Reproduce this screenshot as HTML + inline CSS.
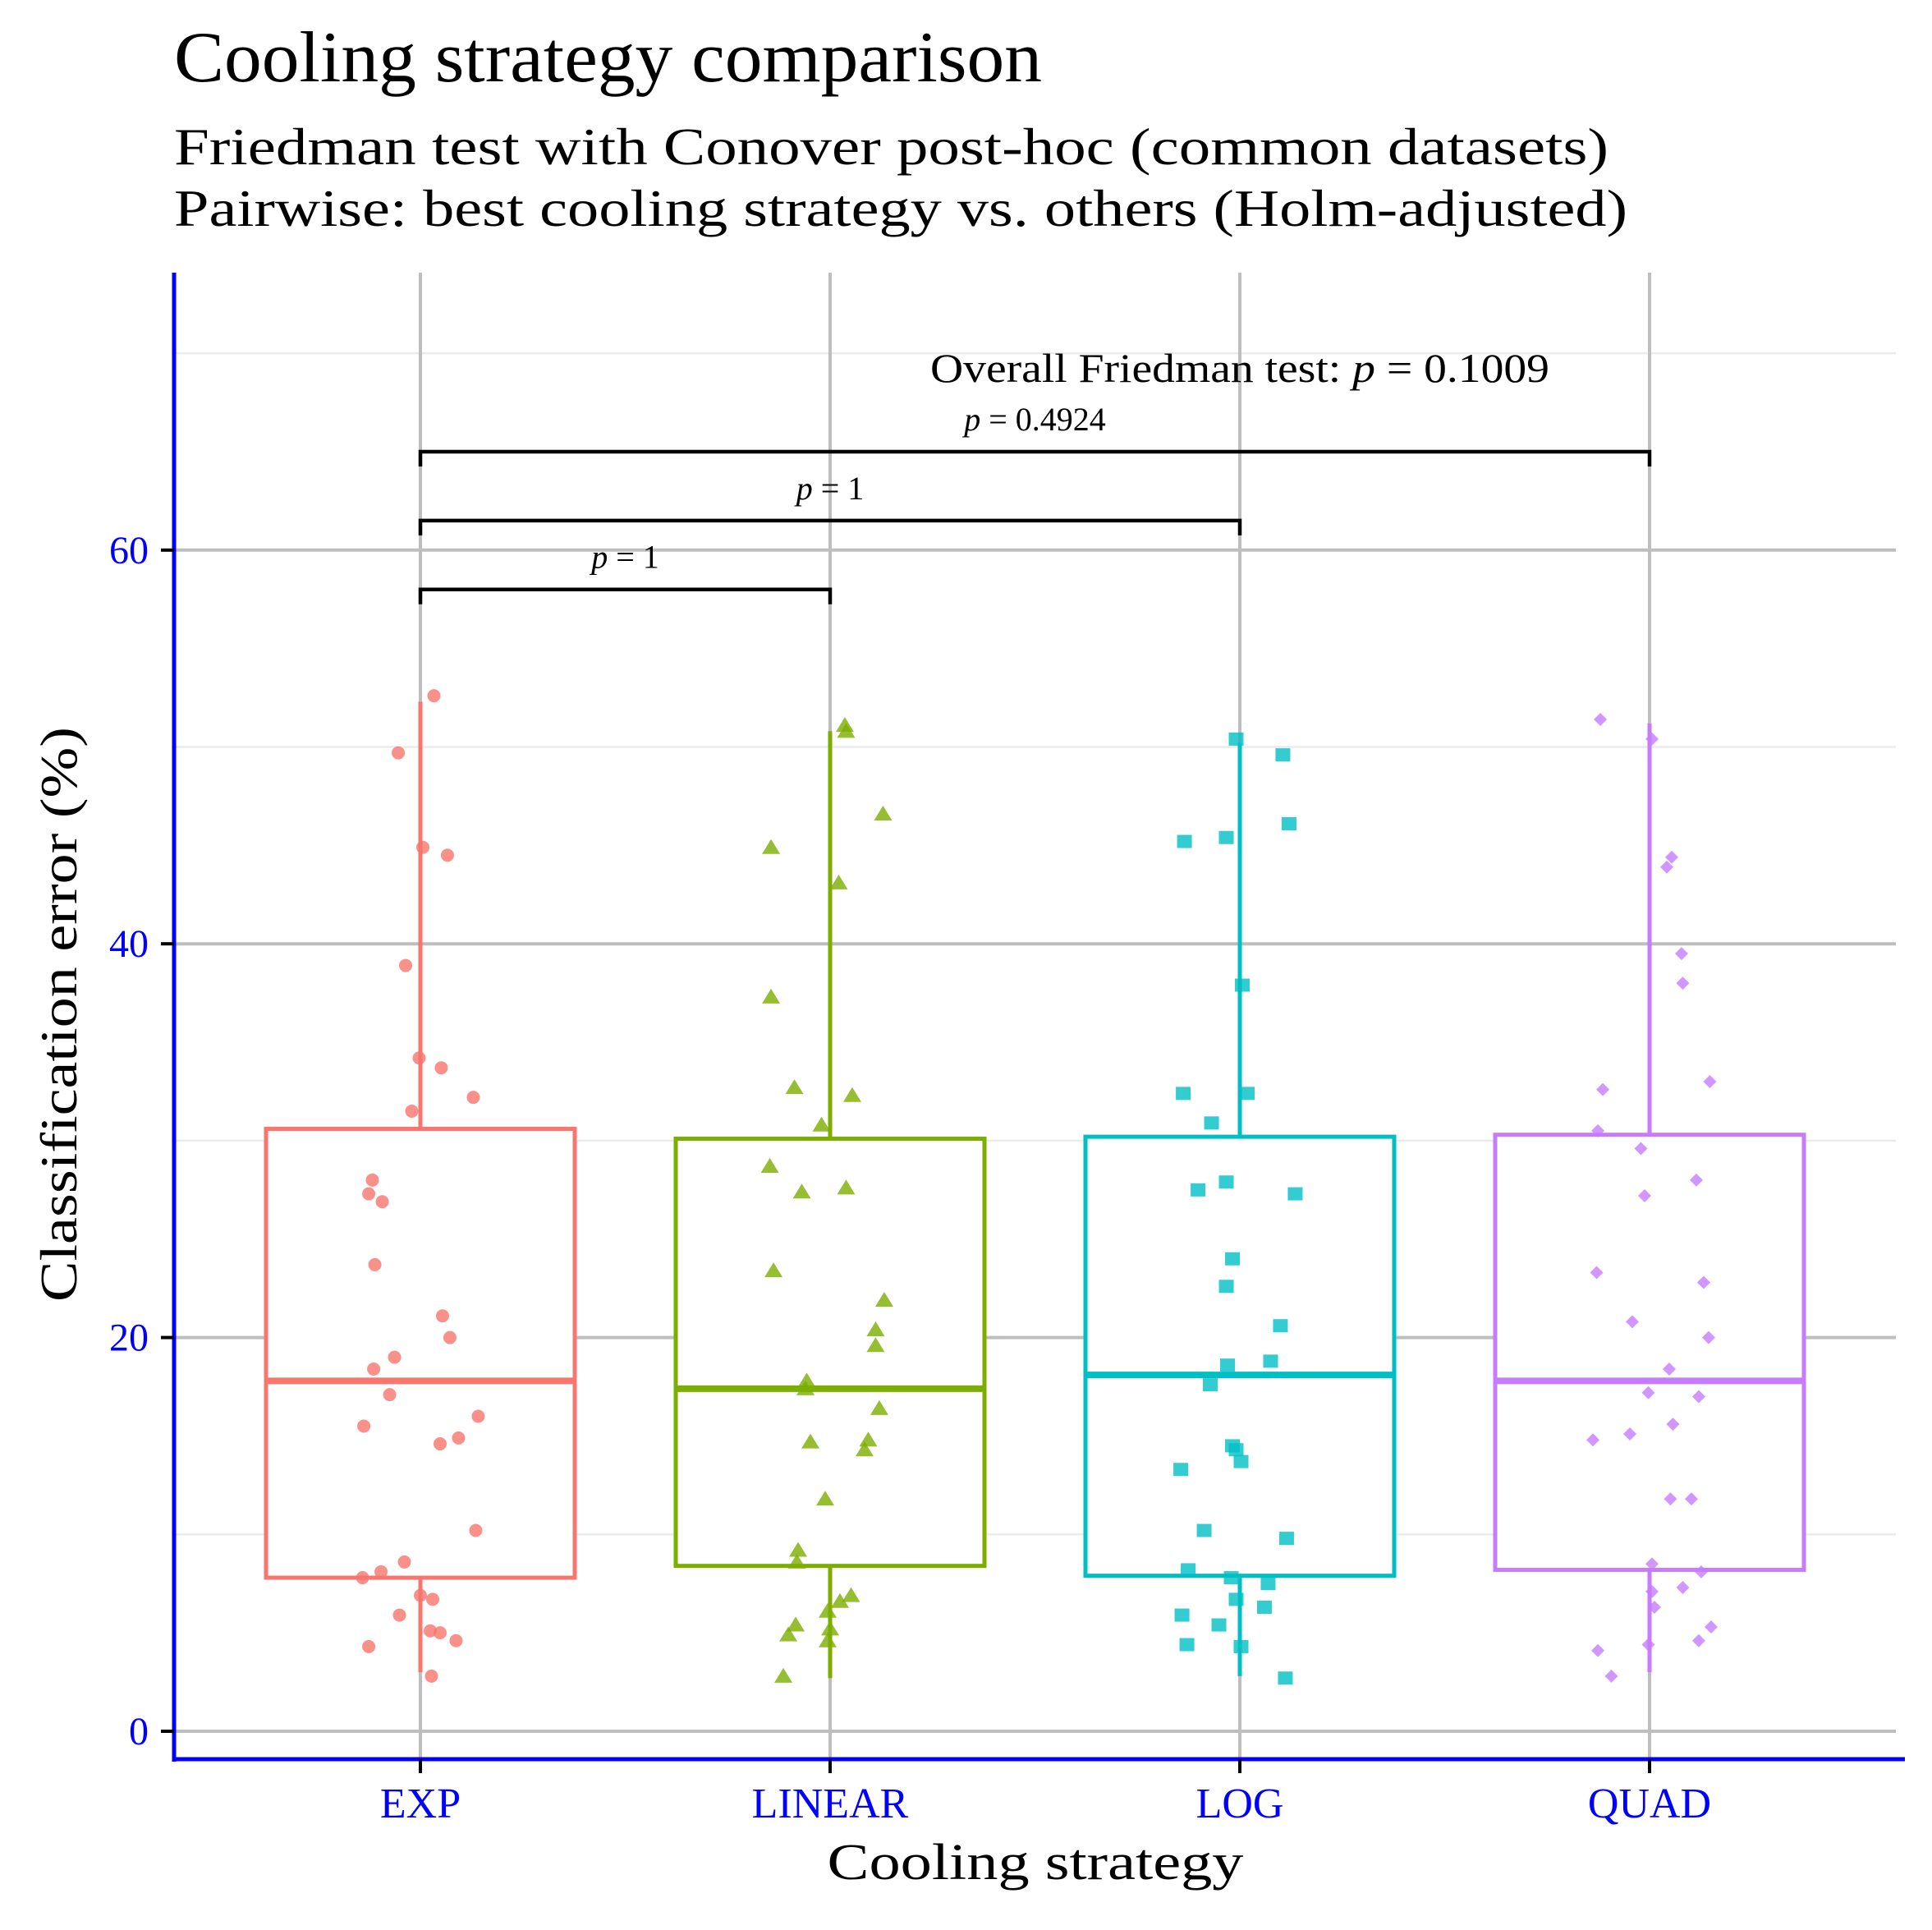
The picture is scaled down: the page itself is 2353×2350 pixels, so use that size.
<!DOCTYPE html>
<html><head><meta charset="utf-8"><style>
html,body{margin:0;padding:0;background:#fff;}
svg{display:block;font-family:"Liberation Serif",serif;}
</style></head><body>
<svg id="chart" width="2353" height="2350" viewBox="0 0 2353 2350" xmlns="http://www.w3.org/2000/svg">
<text x="212" y="99" font-size="88" textLength="1057" lengthAdjust="spacingAndGlyphs">Cooling strategy comparison</text>
<text x="212" y="200" font-size="64" textLength="1747" lengthAdjust="spacingAndGlyphs">Friedman test with Conover post-hoc (common datasets)</text>
<text x="212" y="275" font-size="64" textLength="1770" lengthAdjust="spacingAndGlyphs">Pairwise: best cooling strategy vs. others (Holm-adjusted)</text>
<g id="grid"></g><g id="boxes"></g><g id="points"></g><g id="brackets"></g><g id="axes"></g>
<text x="1261" y="2288" font-size="62" text-anchor="middle" textLength="507" lengthAdjust="spacingAndGlyphs">Cooling strategy</text>
<text transform="translate(93,1235) rotate(-90)" font-size="64" text-anchor="middle" textLength="700" lengthAdjust="spacingAndGlyphs">Classification error (%)</text>
</svg>
<script>
const categories = ["EXP","LINEAR","LOG","QUAD"];
const colors = ["#F8766D","#7CAE00","#00BFC4","#C77CFF"];
const yTicks = [0,20,40,60];
const yMinor = [10,30,50,70];
const q1 = [7.8,8.4,7.9,8.2];
const medians = [17.8,17.4,18.1,17.8];
const q3 = [30.6,30.1,30.2,30.3];
const whiskLo = [3.0,2.7,2.8,3.0];
const whiskHi = [52.3,50.8,50.2,51.2];
const expVals = [52.6,49.7,44.9,44.5,38.9,34.2,33.7,32.2,31.5,28.0,27.3,26.9,23.7,21.1,20.0,19.0,18.4,17.1,16.0,15.5,14.9,14.6,10.2,8.6,8.1,7.8,6.9,6.7,5.9,5.1,5.0,4.6,4.3,2.8];
const expJit = [11,-18,2,22,-12,-1,17,43,-7,-39,-42,-31,-37,18,24,-21,-38,-25,47,-46,31,16,45,-13,-32,-47,0,10,-17,8,16,29,-42,9];
const linVals = [51.1,50.8,46.6,44.9,43.1,37.3,32.7,32.3,30.8,28.7,27.4,27.6,23.4,21.9,20.4,19.6,17.8,17.4,16.4,14.7,14.8,14.3,11.8,9.2,8.6,6.9,6.6,5.4,6.1,4.9,5.2,4.6,2.8];
const linJit = [12,13,43,-48,7,-48,-29,18,-7,-49,-23,13,-46,44,37,37,-19,-20,40,-16,31,28,-4,-26,-27,17,8,-28,-2,-34,0,-2,-38];
const logVals = [50.4,49.6,46.1,45.2,45.4,37.9,32.4,32.4,30.9,27.5,27.9,27.3,24.0,22.6,20.6,18.6,18.8,17.6,14.5,14.3,13.7,13.3,10.2,9.8,8.2,7.8,7.5,6.7,5.9,6.3,5.4,4.4,4.3,2.7];
const logJit = [-3,35,40,-45,-11,2,-46,6,-23,-34,-11,45,-6,-11,33,-10,25,-24,-6,-3,1,-48,-29,38,-42,-7,23,-3,-47,20,-17,-43,1,37];
const quadVals = [51.4,50.4,44.4,43.9,39.5,38.0,33.0,32.6,30.5,29.6,28.0,27.2,23.3,22.8,20.8,20.0,18.4,17.2,17.0,15.6,14.8,15.1,11.8,11.8,8.5,8.1,7.3,7.1,6.3,5.3,4.6,4.4,4.1,2.8];
const quadJit = [-40,2,18,14,26,27,49,-38,-42,-7,38,-4,-43,44,-14,48,16,-1,40,19,-46,-16,17,34,2,42,27,2,4,50,40,-1,-42,-31];
const seriesVals = [expVals,linVals,logVals,quadVals];
const seriesJit = [expJit,linJit,logJit,quadJit];
const bracketPairs = [[0,1],[0,2],[0,3]];
const bracketY = [58.0,61.5,65.0];
const bracketLabels = ["1","1","0.4924"];
const overallP = "0.1009";

const NS="http://www.w3.org/2000/svg";
const X0=212,X1=2309,YTOP=332,YAX=2142;
const xs=i=>512+i*499;
const ys=v=>2108-v*23.97;
const jitterScale=499/333;
function mk(tag,attrs,parent){const e=document.createElementNS(NS,tag);for(const k in attrs)e.setAttribute(k,attrs[k]);parent.appendChild(e);return e;}
const grid=document.getElementById('grid'),boxes=document.getElementById('boxes'),pts=document.getElementById('points'),br=document.getElementById('brackets'),ax=document.getElementById('axes');

yMinor.forEach(v=>{const l=mk('line',{x1:X0,x2:X1,y1:ys(v),y2:ys(v),stroke:'#ebebeb','stroke-width':2.5},grid);

});
yTicks.forEach(v=>{const l=mk('line',{x1:X0,x2:X1,y1:ys(v),y2:ys(v),stroke:'#bebebe','stroke-width':4},grid);

});
categories.forEach((c,i)=>{const l=mk('line',{x1:xs(i),x2:xs(i),y1:YTOP,y2:YAX,stroke:'#bebebe','stroke-width':4},grid);

});

categories.forEach((c,i)=>{
 const g=mk('g',{},boxes);
 
 
 const col=colors[i],cx=xs(i),hw=188;
 mk('line',{x1:cx,x2:cx,y1:ys(whiskHi[i]),y2:ys(q3[i]),stroke:col,'stroke-width':5},g);
 mk('line',{x1:cx,x2:cx,y1:ys(q1[i]),y2:ys(whiskLo[i]),stroke:col,'stroke-width':5},g);
 mk('rect',{x:cx-hw,y:ys(q3[i]),width:2*hw,height:ys(q1[i])-ys(q3[i]),fill:'#fff',stroke:col,'stroke-width':5},g);
 const m=mk('line',{x1:cx-hw,x2:cx+hw,y1:ys(medians[i]),y2:ys(medians[i]),stroke:col,'stroke-width':8},g);
 
 
});

seriesVals.forEach((vals,i)=>{
 const col=colors[i];
 vals.forEach((v,j)=>{
  const x=xs(i)+seriesJit[i][j]*jitterScale,y=ys(v);let e;
  if(i===0) e=mk('circle',{cx:x,cy:y,r:8,fill:col,'fill-opacity':0.8},pts);
  else if(i===1) e=mk('polygon',{points:`${x},${y-10} ${x-11},${y+8} ${x+11},${y+8}`,fill:col,'fill-opacity':0.8},pts);
  else if(i===2) e=mk('rect',{x:x-9,y:y-8,width:18,height:16,fill:col,'fill-opacity':0.8},pts);
  else e=mk('polygon',{points:`${x},${y-8} ${x+8},${y} ${x},${y+8} ${x-8},${y}`,fill:col,'fill-opacity':0.8},pts);
  
  
 });
});

bracketPairs.forEach((p,k)=>{
 const xa=xs(p[0]),xb=xs(p[1]),y=ys(bracketY[k]);
 const path=mk('path',{d:`M${xa},${y+18}V${y}H${xb}V${y+18}`,fill:'none',stroke:'#000','stroke-width':4.5},br);
 
 
 const t=mk('text',{x:(xa+xb)/2,y:y-26,'font-size':40,'text-anchor':'middle'},br);
 t.innerHTML='<tspan font-style="italic">p</tspan> = '+bracketLabels[k];
 
 
});
const ov=mk('text',{x:1510,y:465,'font-size':50,'text-anchor':'middle',textLength:754,lengthAdjust:'spacingAndGlyphs'},br);
ov.innerHTML='Overall Friedman test: <tspan font-style="italic">p</tspan> = '+overallP;



const ya=mk('line',{x1:X0,x2:X0,y1:YTOP,y2:YAX+3,stroke:'#0000ff','stroke-width':5},ax);


const xa=mk('line',{x1:X0-2,x2:X1+11,y1:YAX,y2:YAX,stroke:'#0000ff','stroke-width':5},ax);


yTicks.forEach(v=>{
 const tk=mk('line',{x1:X0-16,x2:X0,y1:ys(v),y2:ys(v),stroke:'#000','stroke-width':4},ax);
 
 
 const t=mk('text',{x:181,y:ys(v)+16,'font-size':48,'text-anchor':'end',fill:'#0000ff'},ax);
 t.textContent=v;
 
 
});
categories.forEach((c,i)=>{
 const tk=mk('line',{x1:xs(i),x2:xs(i),y1:YAX,y2:YAX+17,stroke:'#000','stroke-width':4},ax);
 
 
 const t=mk('text',{x:xs(i),y:2213,'font-size':52,'text-anchor':'middle',fill:'#0000ff'},ax);
 t.textContent=c;
 
 
});
</script>
</body></html>
